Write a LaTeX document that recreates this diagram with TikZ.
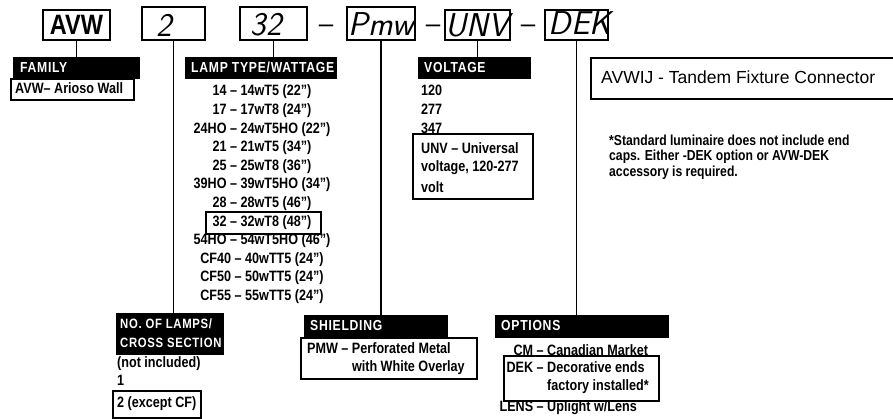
\documentclass[tikz,border=0pt]{standalone}
\usepackage{fontspec}
\setmainfont{Liberation Sans}[FakeStretch=0.84]
\newfontfamily\plainfont{Liberation Sans}
\newfontfamily\hdrfont{Liberation Sans}[FakeStretch=0.84, LetterSpace=5]
\newcommand\optcode[1]{\makebox[35pt][r]{#1}}
\newcommand\hwfont{\sffamily\itshape\fontsize{33}{35}\selectfont}
\tikzset{
  txt/.style={inner sep=0pt, font=\bfseries\fontsize{15}{17}\selectfont},
  ltxt/.style={txt, anchor=west},
  htxt/.style={inner sep=0pt, anchor=west, text=white, font=\hdrfont\bfseries\fontsize{14.5}{16}\selectfont},
  hdr/.style={fill=black, draw=black, inner sep=0pt, anchor=north west},
  frame/.style={draw=black, line width=1.6pt, inner sep=0pt, anchor=north west},
  codebox/.style={draw=black, line width=1.6pt, inner sep=0pt},
  hand/.style={inner sep=0pt, font=\hwfont},
  conn/.style={line width=1.2pt},
  dashtxt/.style={inner sep=0pt, font=\plainfont\fontsize{26}{28}\selectfont},
  fntxt/.style={inner sep=0pt, anchor=west, font=\bfseries\fontsize{14.5}{16}\selectfont},
}
\begin{document}
\begin{tikzpicture}[x=1pt,y=-1pt]
\useasboundingbox (0,0) rectangle (893,419);
% ---- ordering code ----
\node[codebox, minimum width=67pt, minimum height=30pt, font=\bfseries\fontsize{28}{30}\selectfont] (avw) at (76.5,25) {AVW};
\node[codebox, minimum width=63pt, minimum height=33pt] (b2) at (173.5,23.5) {};
\node[hand] (h2) at (164,25) {2};
\node[codebox, minimum width=67pt, minimum height=33pt] (b32) at (273.5,23.5) {};
\node[hand] (h32) at (266,25) {32};
\node[dashtxt] (d1) at (326,29) {–};
\node[codebox, minimum width=68pt, minimum height=33pt] (bpmw) at (381,23.5) {};
\node[hand] (hpmw) at (381,24) {Pmw};
\node[dashtxt] (d2) at (433,29) {–};
\node[codebox, minimum width=65pt, minimum height=30pt] (bunv) at (477.5,25) {};
\node[hand] (hunv) at (477.5,25) {UNV};
\node[dashtxt] (d3) at (528,29) {–};
\node[codebox, minimum width=63pt, minimum height=30pt] (bdek) at (576.5,25) {};
\node[hand] (hdek) at (580,23) {DEK};
% ---- headers ----
\node[hdr, minimum width=126pt, minimum height=21pt] (famhdr) at (13,57) {};
\node[htxt] (famtxt) at (20,67.5) {FAMILY};
\node[hdr, minimum width=151pt, minimum height=21pt] (lamphdr) at (185,57) {};
\node[htxt] (lamptxt) at (191,67.5) {LAMP TYPE/WATTAGE};
\node[hdr, minimum width=112pt, minimum height=21pt] (volthdr) at (418,57) {};
\node[htxt] (volttxt) at (424,67.5) {VOLTAGE};
\node[hdr, minimum width=107pt, minimum height=41pt] (nolhdr) at (116,313) {};
\node[htxt, font=\hdrfont\bfseries\fontsize{13.5}{15}\selectfont] (noltxta) at (120,323.5) {NO. OF LAMPS/};
\node[htxt, font=\hdrfont\bfseries\fontsize{13.5}{15}\selectfont] (noltxtb) at (120,343) {CROSS SECTION};
\node[hdr, minimum width=143pt, minimum height=21pt] (shdhdr) at (304,315) {};
\node[htxt] (shdtxt) at (310,325.5) {SHIELDING};
\node[hdr, minimum width=173pt, minimum height=22pt] (opthdr) at (495,315) {};
\node[htxt] (opttxt) at (501,326) {OPTIONS};
% ---- connectors ----
\draw[conn] (avw.south) -- (avw.south |- famhdr.north);
\draw[conn] (b2.south) -- (b2.south |- nolhdr.north);
\draw[conn] (b32.south) -- (b32.south |- lamphdr.north);
\draw[conn] (bpmw.south) -- (bpmw.south |- shdhdr.north);
\draw[conn] (bunv.south) -- (bunv.south |- volthdr.north);
\draw[conn] (bdek.south) -- (bdek.south |- opthdr.north);
% ---- family ----
\node[frame, minimum width=123pt, minimum height=21pt] (fambox) at (10,78) {};
\node[ltxt] (famval) at (15,88.5) {AVW– Arioso Wall};
% ---- lamp types ----
\foreach \t [count=\i] in {14 – 14wT5 (22"), 17 – 17wT8 (24"), 24HO – 24wT5HO (22"), 21 – 21wT5 (34"), 25 – 25wT8 (36"), 39HO – 39wT5HO (34"), 28 – 28wT5 (46"), 32 – 32wT8 (48"), 54HO – 54wT5HO (46"), CF40 – 40wTT5 (24"), CF50 – 50wTT5 (24"), CF55 – 55wTT5 (24")}
  \node[txt] (lamp\i) at (262,{92+(\i-1)*18.6}) {\t};
\node[frame, minimum width=115pt, minimum height=22pt] (sel32) at (205,211) {};
% ---- voltage ----
\node[ltxt] (v120) at (421,90) {120};
\node[ltxt] (v277) at (421,109) {277};
\node[ltxt] (v347) at (421,128) {347};
\node[frame, minimum width=120pt, minimum height=65pt] (unvbox) at (412,133) {};
\node[ltxt] (unva) at (421,148) {UNV – Universal};
\node[ltxt] (unvb) at (421,167.5) {voltage, 120-277};
\node[ltxt] (unvc) at (421,187) {volt};
% ---- connector box ----
\node[frame, minimum width=330pt, minimum height=41pt] (avwij) at (590,57) {};
\node[inner sep=0pt, anchor=west, font=\plainfont\fontsize{17.5}{20}\selectfont] (avwijtxt) at (601,77.5) {AVWIJ - Tandem Fixture Connector};
% ---- footnote ----
\node[fntxt] (fn1) at (609,140) {*Standard luminaire does not include end};
\node[fntxt] (fn2) at (609,157) {caps. Either -DEK option or AVW-DEK};
\node[fntxt] (fn3) at (609,173) {accessory is required.};
% ---- number of lamps ----
\node[ltxt] (nl0) at (117,364) {(not included)};
\node[ltxt] (nl1) at (117,380.5) {1};
\node[frame, minimum width=88pt, minimum height=27pt] (nl2box) at (112,390) {};
\node[ltxt] (nl2) at (117,403.5) {2 (except CF)};
% ---- shielding ----
\node[frame, minimum width=176pt, minimum height=41pt] (pmwbox) at (300,337) {};
\node[ltxt] (pmwa) at (307,348) {PMW – Perforated Metal};
\node[ltxt] (pmwb) at (307,368) {\phantom{PMW – }with White Overlay};
% ---- options ----
\node[ltxt] (optcm) at (498,350) {\optcode{CM} – Canadian Market};
\node[frame, minimum width=155pt, minimum height=45pt] (dekbox) at (503,355) {};
\node[ltxt] (optdeka) at (498,367) {\optcode{DEK} – Decorative ends};
\node[ltxt] (optdekb) at (498,387) {\phantom{\optcode{DEK} – }factory installed*};
\node[ltxt] (optlens) at (498,408) {\optcode{LENS} – Uplight w/Lens};
\end{tikzpicture}
\end{document}
